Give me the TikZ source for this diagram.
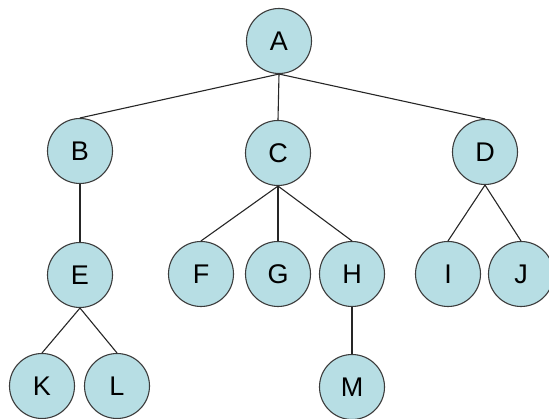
\documentclass[tikz,border=0pt]{standalone}
\usepackage{fontspec}
\setmainfont{Liberation Sans}
\definecolor{nodefill}{RGB}{183,222,228}
\definecolor{nodeline}{RGB}{60,60,60}
\begin{document}
\begin{tikzpicture}[x=1pt,y=-1pt,
  tnode/.style={circle,draw=nodeline,fill=nodefill,line width=1.1pt,minimum size=65pt,inner sep=0pt,font=\fontsize{27}{27}\selectfont},
  edge/.style={draw=black!85,line width=1.1pt}]
\useasboundingbox (0,0) rectangle (549,419);
\node[tnode] (A) at (279,41) {A};
\node[tnode] (B) at (80,151) {B};
\node[tnode] (C) at (278,153) {C};
\node[tnode] (D) at (485,152) {D};
\node[tnode] (E) at (80,275) {E};
\node[tnode] (F) at (201,274) {F};
\node[tnode] (G) at (278,274) {G};
\node[tnode] (H) at (352,274) {H};
\node[tnode] (I) at (448,274) {I};
\node[tnode] (J) at (521,274) {J};
\node[tnode] (K) at (42,386) {K};
\node[tnode] (L) at (117,386) {L};
\node[tnode] (M) at (352,387) {M};
\draw[edge] (A.south) -- (B.north);
\draw[edge] (A.south) -- (C.north);
\draw[edge] (A.south) -- (D.north);
\draw[edge] (B.south) -- (E.north);
\draw[edge] (C.south) -- (F.north);
\draw[edge] (C.south) -- (G.north);
\draw[edge] (C.south) -- (H.north);
\draw[edge] (D.south) -- (I.north);
\draw[edge] (D.south) -- (J.north);
\draw[edge] (E.south) -- (K.north);
\draw[edge] (E.south) -- (L.north);
\draw[edge] (H.south) -- (M.north);
\end{tikzpicture}
\end{document}
